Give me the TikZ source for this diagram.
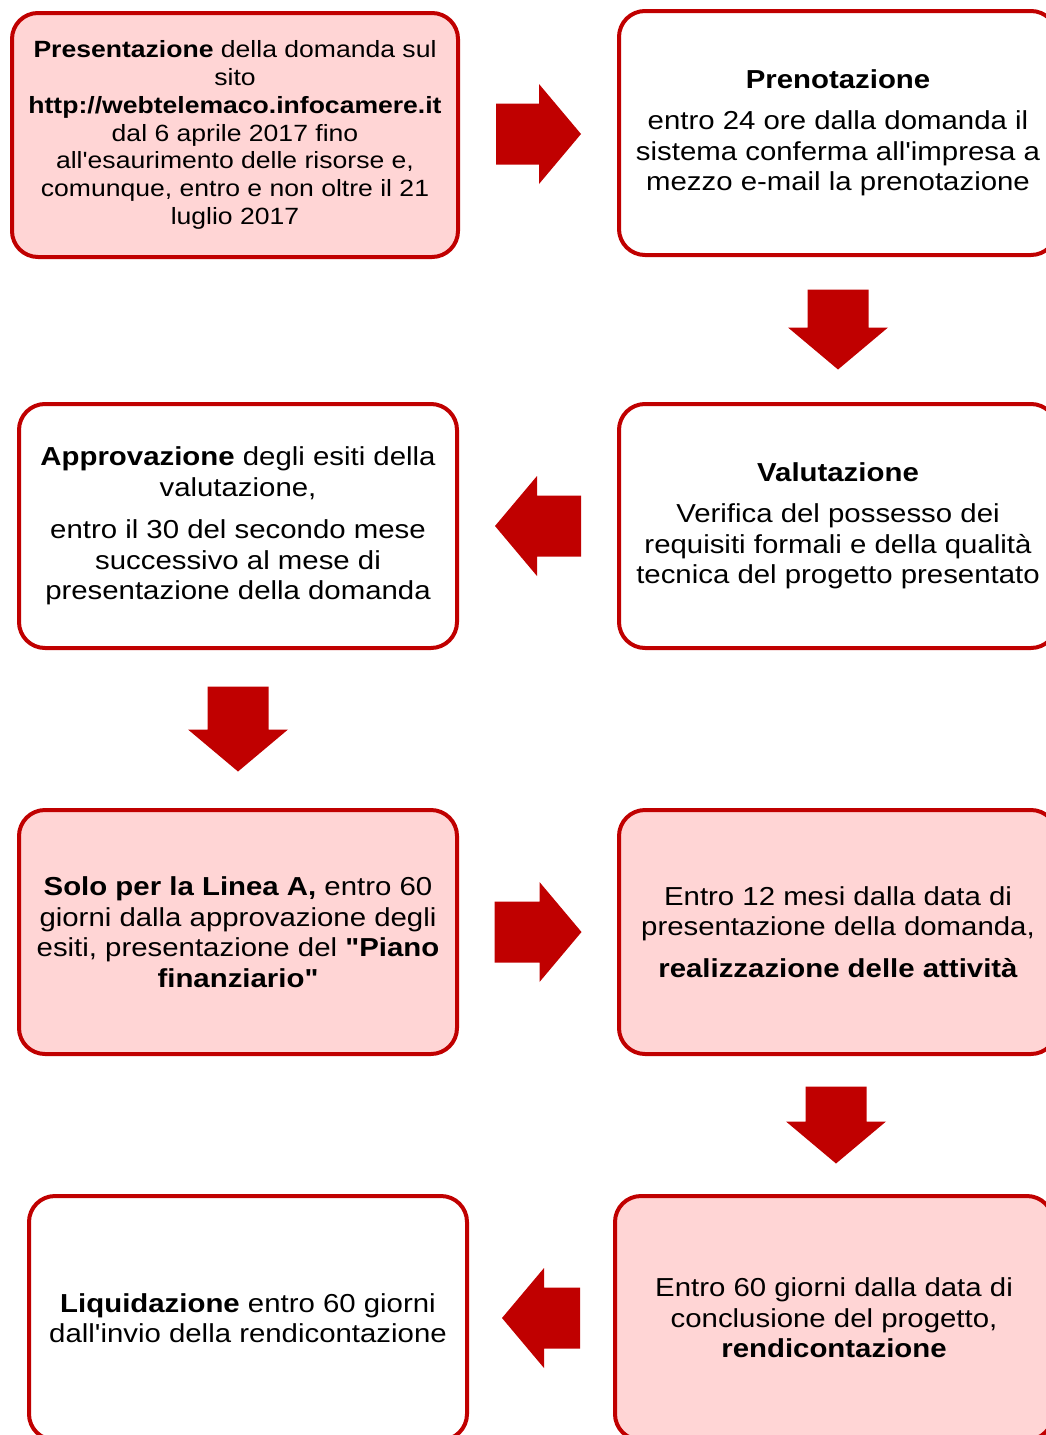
\documentclass[tikz,border=0pt]{standalone}
\usepackage{fontspec}
\setmainfont{Liberation Sans}[Ligatures=TeXOff,FakeStretch=1.13]
\usepackage{tikz}
\usetikzlibrary{positioning,calc}

\definecolor{rosso}{HTML}{C00000}
\definecolor{rosa}{HTML}{FFD5D5}

\begin{document}
\begin{tikzpicture}[x=1pt,y=-1pt,
	fase/.style={draw=rosso,line width=4pt,rounded corners=26pt,fill=white,
		minimum width=438pt,minimum height=244pt,align=center,inner sep=0pt,
		font=\fontsize{26}{30.5}\selectfont},
	pics/freccia/.style={code={
		\fill[rosso] (-#1/2,-30.5) -- (#1/2-42,-30.5) -- (#1/2-42,-50) -- (#1/2,0)
			-- (#1/2-42,50) -- (#1/2-42,30.5) -- (-#1/2,30.5) -- cycle;}}]

\useasboundingbox (0,0) rectangle (1046,1435);

\node[fase,fill=rosa,minimum width=446pt,font=\fontsize{23.5}{27.7}\selectfont]   (pres) at (235,135)
	{\textbf{Presentazione} della domanda sul\\ sito\\ \textbf{http://webtelemaco.infocamere.it}\\ dal 6 aprile 2017 fino\\
	 all'esaurimento delle risorse e,\\ comunque, entro e non oltre il 21\\ luglio 2017};
\node[fase]   (pren)[right=157pt of pres,yshift=2pt]
	{\textbf{Prenotazione}\\[11pt] entro 24 ore dalla domanda il\\ sistema conferma all'impresa a\\ mezzo e-mail la prenotazione};
\node[fase]   (valu)[below=145pt of pren]
	{\textbf{Valutazione}\\[11pt] Verifica del possesso dei\\ requisiti formali e della qualità\\ tecnica del progetto presentato};
\node[fase]   (appr)[left=158pt of valu]
	{\textbf{Approvazione} degli esiti della\\ valutazione,\\[12pt] entro il 30 del secondo mese\\ successivo al mese di\\ presentazione della domanda};
\node[fase,fill=rosa]   (piano)[below=158pt of appr]
	{\textbf{Solo per la Linea A,} entro 60\\ giorni dalla approvazione degli\\ esiti, presentazione del \textbf{"Piano}\\ \textbf{finanziario"}};
\node[fase,fill=rosa]   (real)[right=158pt of piano]
	{Entro 12 mesi dalla data di\\ presentazione della domanda,\\[11pt] \textbf{realizzazione delle attività}};
\node[fase,fill=rosa]   (rend)[below=138pt of real,xshift=-4pt]
	{Entro 60 giorni dalla data di\\ conclusione del progetto,\\ \textbf{rendicontazione}};
\node[fase]   (liq)[left=144pt of rend]
	{\textbf{Liquidazione} entro 60 giorni\\ dall'invio della rendicontazione};

% frecce tra le fasi
\pic (f1) at ($(pres.east)!0.5!(pren.west)$) {freccia=85};
\pic[rotate=-90] (f2) at ($(pren.south)!0.5!(valu.north)$) {freccia=80};
\pic[rotate=180] (f3) at ($(valu.west)!0.5!(appr.east)$) {freccia=86};
\pic[rotate=-90] (f4) at ($(appr.south)!0.5!(piano.north)$) {freccia=85};
\pic (f5) at ($(piano.east)!0.5!(real.west)$) {freccia=87};
\pic[rotate=-90] (f6) at ($(real.south)!0.5!(rend.north)$) {freccia=77};
\pic[rotate=180] (f7) at ($(rend.west)!0.5!(liq.east)$) {freccia=78};
\end{tikzpicture}
\end{document}
